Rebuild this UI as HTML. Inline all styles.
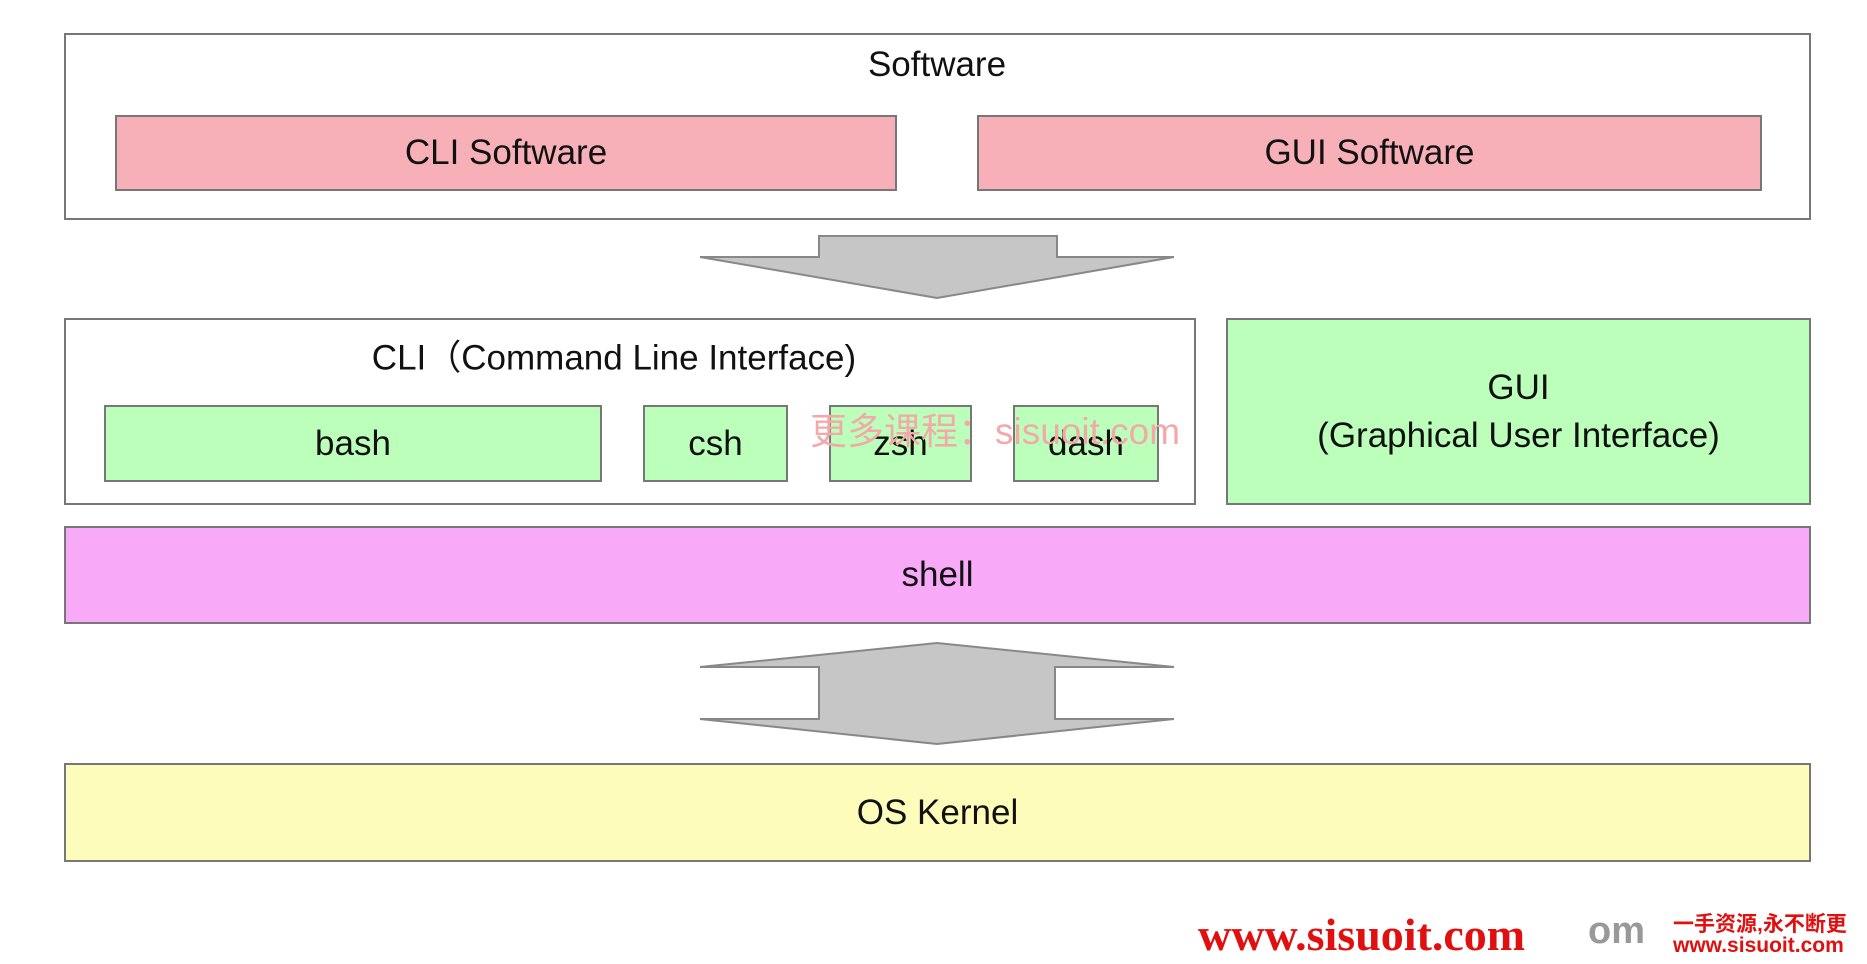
<!DOCTYPE html>
<html><head><meta charset="utf-8"><style>
body{margin:0;width:1867px;height:964px;background:#fff;position:relative;overflow:hidden;font-family:"Liberation Sans","Noto Sans CJK SC",sans-serif;color:#111}
.b{position:absolute;box-sizing:border-box;border:2px solid #777;display:flex;align-items:center;justify-content:center;font-size:35px;text-align:center}
.t{position:absolute;font-size:35px;white-space:nowrap;transform:translate(-50%,-50%)}
</style></head><body>
<div class="b" style="left:64px;top:33px;width:1747px;height:187px"></div>
<div class="t" style="left:937px;top:65px">Software</div>
<div class="b" style="left:115px;top:115px;width:782px;height:76px;background:#f8b0b8">CLI Software</div>
<div class="b" style="left:977px;top:115px;width:785px;height:76px;background:#f8b0b8">GUI Software</div>
<svg style="position:absolute;left:0;top:0" width="1867" height="964">
<polygon points="819,236 1057,236 1057,257 1174,257 937,298 700,257 819,257" fill="#c6c6c6" stroke="#888" stroke-width="2"/>
<polygon points="937,643 1174,667 1055,667 1055,719 1174,719 937,744 700,719 819,719 819,667 700,667" fill="#c6c6c6" stroke="#888" stroke-width="2"/>
</svg>
<div class="b" style="left:64px;top:318px;width:1132px;height:187px"></div>
<div class="t" style="left:614px;top:355px">CLI（Command Line Interface)</div>
<div class="b" style="left:104px;top:405px;width:498px;height:77px;background:#bbffbb">bash</div>
<div class="b" style="left:643px;top:405px;width:145px;height:77px;background:#bbffbb">csh</div>
<div class="b" style="left:829px;top:405px;width:143px;height:77px;background:#bbffbb">zsh</div>
<div class="b" style="left:1013px;top:405px;width:146px;height:77px;background:#bbffbb">dash</div>
<div class="t" style="left:995px;top:428px;color:#f3a9a9;font-size:37px">更多课程：sisuoit.com</div>
<div class="b" style="left:1226px;top:318px;width:585px;height:187px;background:#bbffbb;flex-direction:column;line-height:48px">GUI<br>(Graphical User Interface)</div>
<div class="b" style="left:64px;top:526px;width:1747px;height:98px;background:#f8aaf8">shell</div>
<div class="b" style="left:64px;top:763px;width:1747px;height:99px;background:#fefcbb">OS Kernel</div>
<div style="position:absolute;left:1198px;top:910px;font-family:'Liberation Serif',serif;font-weight:bold;font-size:46px;color:#e01010;line-height:50px">www.sisuoit.com</div>
<div style="position:absolute;left:1588px;top:910px;font-weight:bold;font-size:38px;color:#999">om</div>
<div style="position:absolute;left:1673px;top:908px;font-weight:bold;font-size:21px;color:#e01010">一手资源,永不断更</div>
<div style="position:absolute;left:1673px;top:934px;font-weight:bold;font-size:21px;color:#e01010">www.sisuoit.com</div>
</body></html>
